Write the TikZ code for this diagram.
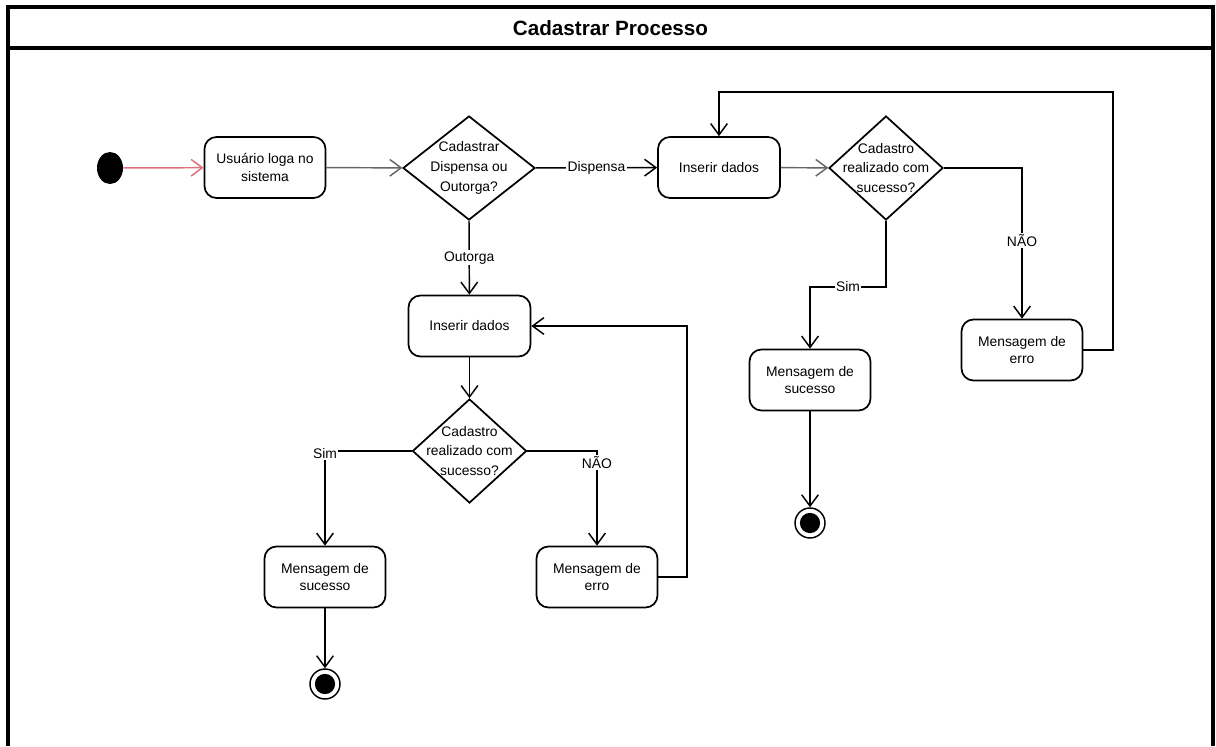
\documentclass[tikz,border=0pt]{standalone}
\usepackage{fontspec}
\setmainfont{Liberation Sans}
\usetikzlibrary{arrows.meta,shapes.geometric}
\definecolor{flowred}{HTML}{E0707C}
\definecolor{flowgray}{HTML}{666666}
\begin{document}
\begin{tikzpicture}[x=0.75pt,y=-0.75pt,
  txt/.style={font=\fontsize{10.4pt}{12.9pt}\selectfont},
  dtxt/.style={font=\fontsize{10.4pt}{14.7pt}\selectfont},
  act/.style={txt,draw,line width=1.3pt,rounded corners=9pt,align=center,
    minimum width=90.75pt,minimum height=45.75pt,inner sep=2pt},
  dec/.style={draw,diamond,line width=1.3pt,inner sep=0pt,minimum height=78pt},
  startnode/.style={ellipse,fill=black,minimum width=19.5pt,minimum height=24pt,inner sep=0pt},
  endnode/.style={circle,draw,line width=1.1pt,minimum size=22.5pt,inner sep=0pt,
    path picture={\fill[black] (path picture bounding box.center) circle (7.6pt);}},
  flow/.style={line width=1.1pt,-{Straight Barb[length=8.5pt,width=12.5pt]}},
  lbl/.style={txt,fill=white,inner sep=1pt}]
\useasboundingbox (0,0) rectangle (1216,746);

% swimlane frame and title
\draw[line width=2.3pt] (8,746) -- (8,7) -- (1213,7) -- (1213,746);
\draw[line width=2.3pt] (8,48) -- (1213,48);
\node[font=\fontsize{15.5pt}{18pt}\selectfont\bfseries] (title) at (610.5,28) {Cadastrar Processo};

% activities
\node[startnode] (start) at (110,168) {};
\node[act] (login) at (265,167.5) {Usuário loga no\\sistema};
\node[dec,minimum width=99pt,
  label={[dtxt,align=center]center:Cadastrar\\Dispensa ou\\Outorga?}] (tipo) at (469,168) {};

% Dispensa branch
\node[act,minimum width=91.5pt] (insD) at (719,167.5) {Inserir dados};
\node[dec,minimum width=85.5pt,
  label={[dtxt,align=center]center:Cadastro\\realizado com\\sucesso?}] (okD) at (886,168) {};
\node[act] (errD) at (1022,350) {Mensagem de\\erro};
\node[act] (sucD) at (810,380) {Mensagem de\\sucesso};
\node[endnode] (endD) at (810,523) {};

% Outorga branch
\node[act,minimum width=91.5pt] (insO) at (469.5,326) {Inserir dados};
\node[dec,minimum width=85.5pt,
  label={[dtxt,align=center]center:Cadastro\\realizado com\\sucesso?}] (okO) at (469.5,451) {};
\node[act] (sucO) at (325,577) {Mensagem de\\sucesso};
\node[act] (errO) at (597,577) {Mensagem de\\erro};
\node[endnode] (endO) at (325,684) {};

% loop-back corners
\coordinate (backD) at (1113,92);
\coordinate (backO) at (687,326);

% connectors
\draw[flow,flowred] (start) -- (login);
\draw[flow,flowgray] (login) -- (tipo);
\draw[flow] (tipo) -- node[lbl]{Dispensa} (insD);
\draw[flow,flowgray] (insD) -- (okD);
\draw[flow] (okD.east) -| node[lbl,pos=0.74]{NÃO} (errD.north);
\draw[flow] (okD.south) -- ++(0,66) -| node[lbl,pos=0.25]{Sim} (sucD.north);
\draw[flow] (errD.east) -| (backD) -| (insD.north);
\draw[flow] (sucD) -- (endD);

\draw[flow] (tipo.south) -- node[lbl]{Outorga} (insO);
\draw[flow] (insO) -- (okO);
\draw[flow] (okO.west) -| node[lbl,pos=0.5,yshift=-2pt]{Sim} (sucO.north);
\draw[flow] (okO.east) -| node[lbl,pos=0.5625]{NÃO} (errO.north);
\draw[flow] (errO.east) -| (backO) -- (insO.east);
\draw[flow] (sucO) -- (endO);
\end{tikzpicture}
\end{document}
